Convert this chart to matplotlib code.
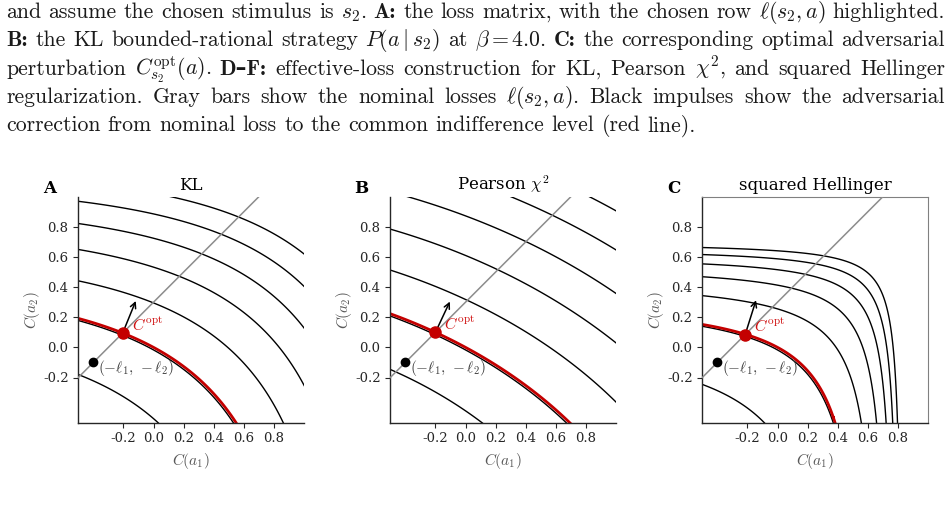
import numpy as np
import matplotlib
matplotlib.use("Agg")
import matplotlib.pyplot as plt

plt.rcParams["font.family"] = "DejaVu Serif"
plt.rcParams["mathtext.fontset"] = "cm"
plt.rcParams["axes.unicode_minus"] = False

# prior over the two actions and nominal losses of the chosen stimulus s2
prior = [0.35, 0.65]
losses = [0.4, 0.1]

# levels of sum_a p(a) f*(C(a)) drawn as black contours, red = 0
levels = [-0.245, -0.011, 0.223, 0.457, 0.691, 0.926, 1.16]
red_level = [0.0]

letters = ["A", "B", "C"]
titles = ["KL", r"Pearson $\chi^2$", "squared Hellinger"]
# optimal perturbation and the strategy (normal direction) at it, per panel
c_opt = [(-0.205, 0.095), (-0.2, 0.1), (-0.215, 0.085)]
strategy = [(0.29, 0.71), (0.32, 0.68), (0.24, 0.76)]
arrow_scale = 0.3

ticks = [-0.2, 0.0, 0.2, 0.4, 0.6, 0.8]
tick_labels = ["-0.2", "0.0", "0.2", "0.4", "0.6", "0.8"]


def f_kl(s):
    return np.exp(s) - 1


def f_pearson(s):
    return s + s ** 2 / 4


def f_hellinger(s):
    s = np.minimum(s, 0.9999)
    return s / (1 - s)


conjugates = [f_kl, f_pearson, f_hellinger]

caption = [
    r"and assume the chosen stimulus is $s_2$. **A: the loss matrix, with the chosen row $\ell(s_2, a)$ highlighted.",
    r"**B: the KL bounded-rational strategy $P(a \mid s_2)$ at $\beta = 4.0$. **C: the corresponding optimal adversarial",
    r"perturbation $C^{\rm opt}_{s_2}(a)$. **D–F: effective-loss construction for KL, Pearson $\chi^2$, and squared Hellinger",
    r"regularization. Gray bars show the nominal losses $\ell(s_2, a)$. Black impulses show the adversarial",
    r"correction from nominal loss to the common indifference level (red line).",
]
baselines = [18, 46.3, 74.6, 102.9, 131.2]

W, H = 951, 516
fig = plt.figure(figsize=(W / 100, H / 100), dpi=100)


def split_words(line):
    out, cur, math = [], "", False
    for ch in line:
        if ch == "$":
            math = not math
        if ch == " " and not math:
            if cur:
                out.append(cur)
            cur = ""
        else:
            cur += ch
    if cur:
        out.append(cur)
    return out


# caption text, justified word by word like the LaTeX page
renderer = fig.canvas.get_renderer()
cap_size = 15.7
x0, x1 = 6, 945
for i, line in enumerate(caption):
    words = []
    for w in split_words(line):
        bold = w.startswith("**")
        fam = ["cmb10", "DejaVu Serif"] if bold else ["cmr10", "DejaVu Serif"]
        t = fig.text(0, 1 - baselines[i] / H, w.lstrip("*"), fontsize=cap_size,
                     family=fam, math_fontfamily="cm", va="baseline",
                     color="0.1", fontweight="bold" if bold else "normal")
        words.append(t)
    widths = [t.get_window_extent(renderer).width for t in words]
    if i < len(caption) - 1:
        gap = (x1 - x0 - sum(widths)) / (len(words) - 1)
    else:
        gap = 0.333 * cap_size * 100 / 72
    x = x0
    for t, w in zip(words, widths):
        t.set_x(x / W)
        x += w + gap

# the three panels
grid = np.linspace(-0.55, 1.05, 641)
X, Y = np.meshgrid(grid, grid)
lefts = [78.3, 390.3, 702.3]

for k in range(3):
    ax = fig.add_axes([lefts[k] / W, (H - 422.7) / H, 225.7 / W, 226 / H])
    f = conjugates[k]
    Z = prior[0] * f(X) + prior[1] * f(Y)
    ax.contour(X, Y, Z, levels=levels, colors="k", linewidths=1.0,
               negative_linestyles="solid")
    ax.contour(X, Y, Z, levels=red_level, colors="#c40000", linewidths=2.0)

    ax.axline((-losses[0], -losses[1]), slope=1, color="0.55", lw=1.1, zorder=3)
    ax.plot(-losses[0], -losses[1], "o", color="k", ms=6, zorder=5)
    c = c_opt[k]
    q = strategy[k]
    ax.annotate("", xy=(c[0] + arrow_scale * q[0], c[1] + arrow_scale * q[1]),
                xytext=c, zorder=4,
                arrowprops=dict(arrowstyle="->", color="k", lw=1.1,
                                shrinkA=0, shrinkB=0))
    ax.plot(c[0], c[1], "o", color="#c40000", ms=8, zorder=6)

    ax.annotate(r"$(-\ell_1,\,-\ell_2)$", xy=(-losses[0], -losses[1]),
                xytext=(3.6, -4.3), textcoords="offset points", fontsize=11,
                va="center", ha="left", color="0.25", zorder=7)
    ax.annotate(r"$C^{\mathrm{opt}}$", xy=c, xytext=(6.5, 5),
                textcoords="offset points", fontsize=11.5, va="center",
                ha="left", color="#d01010", zorder=7)

    ax.set_xlim(-0.5, 1.0)
    ax.set_ylim(-0.5, 1.0)
    ax.set_xticks(ticks)
    ax.set_xticklabels(tick_labels)
    ax.set_yticks(ticks)
    ax.set_yticklabels(tick_labels)
    ax.tick_params(labelsize=9.5, length=3.5, width=0.8, colors="0.15")
    ax.set_xlabel(r"$C(a_1)$", fontsize=11, color="0.35", labelpad=4)
    ax.set_ylabel(r"$C(a_2)$", fontsize=11, color="0.35", labelpad=1)
    ax.set_title(titles[k], fontsize=12, pad=4.5)
    ax.text(-0.127, 1.0, letters[k], transform=ax.transAxes, fontsize=12,
            fontweight="bold", ha="center", va="bottom")

    for side in ["left", "bottom"]:
        ax.spines[side].set_color("0.15")
        ax.spines[side].set_linewidth(1.0)
    if k < 2:
        ax.spines["top"].set_visible(False)
        ax.spines["right"].set_visible(False)
    else:
        for side in ["top", "right"]:
            ax.spines[side].set_color("0.5")
            ax.spines[side].set_linewidth(0.8)

fig.savefig("out.png", dpi=100)
